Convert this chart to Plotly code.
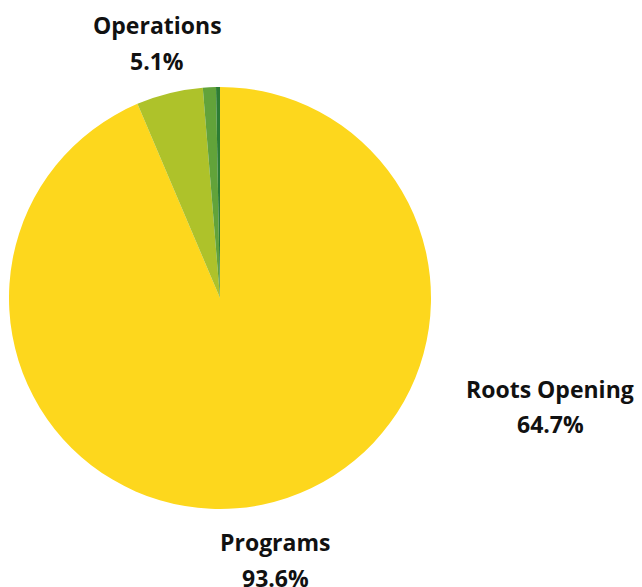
import plotly.graph_objects as go

labels = ["Programs", "Operations", "Fundraising", "Other"]
values = [93.6, 5.1, 1.0, 0.3]
colors = ["#FDD71D", "#AEC22A", "#62A33A", "#2D7D34"]

ann_names = ["Operations", "Roots Opening", "Programs"]
ann_pcts = ["5.1%", "64.7%", "93.6%"]
ann_x = [157, 550, 275]
ann_y = [25, 389, 542]

W, H = 642, 587
cx, cy, r = 220, 298, 211

fig = go.Figure(go.Pie(
    labels=labels, values=values, sort=False, direction="clockwise",
    rotation=0, marker=dict(colors=colors, line=dict(width=0)),
    textinfo="none", hoverinfo="label+percent", showlegend=False,
    domain=dict(x=[(cx - r) / W, (cx + r) / W], y=[1 - (cy + r) / H, 1 - (cy - r) / H]),
))

font = dict(family="Open Sans, sans-serif", size=23, color="#111111")
for name, pct, x, y in zip(ann_names, ann_pcts, ann_x, ann_y):
    for i, t in enumerate([name, pct]):
        fig.add_annotation(text="<b>" + t + "</b>", x=x / W, y=1 - (y + 35.5 * i) / H,
                           xref="paper", yref="paper", showarrow=False,
                           xanchor="center", yanchor="middle", font=font)

fig.update_layout(width=W, height=H, margin=dict(l=0, r=0, t=0, b=0),
                  paper_bgcolor="white", plot_bgcolor="white")
fig.write_html("out.html")
